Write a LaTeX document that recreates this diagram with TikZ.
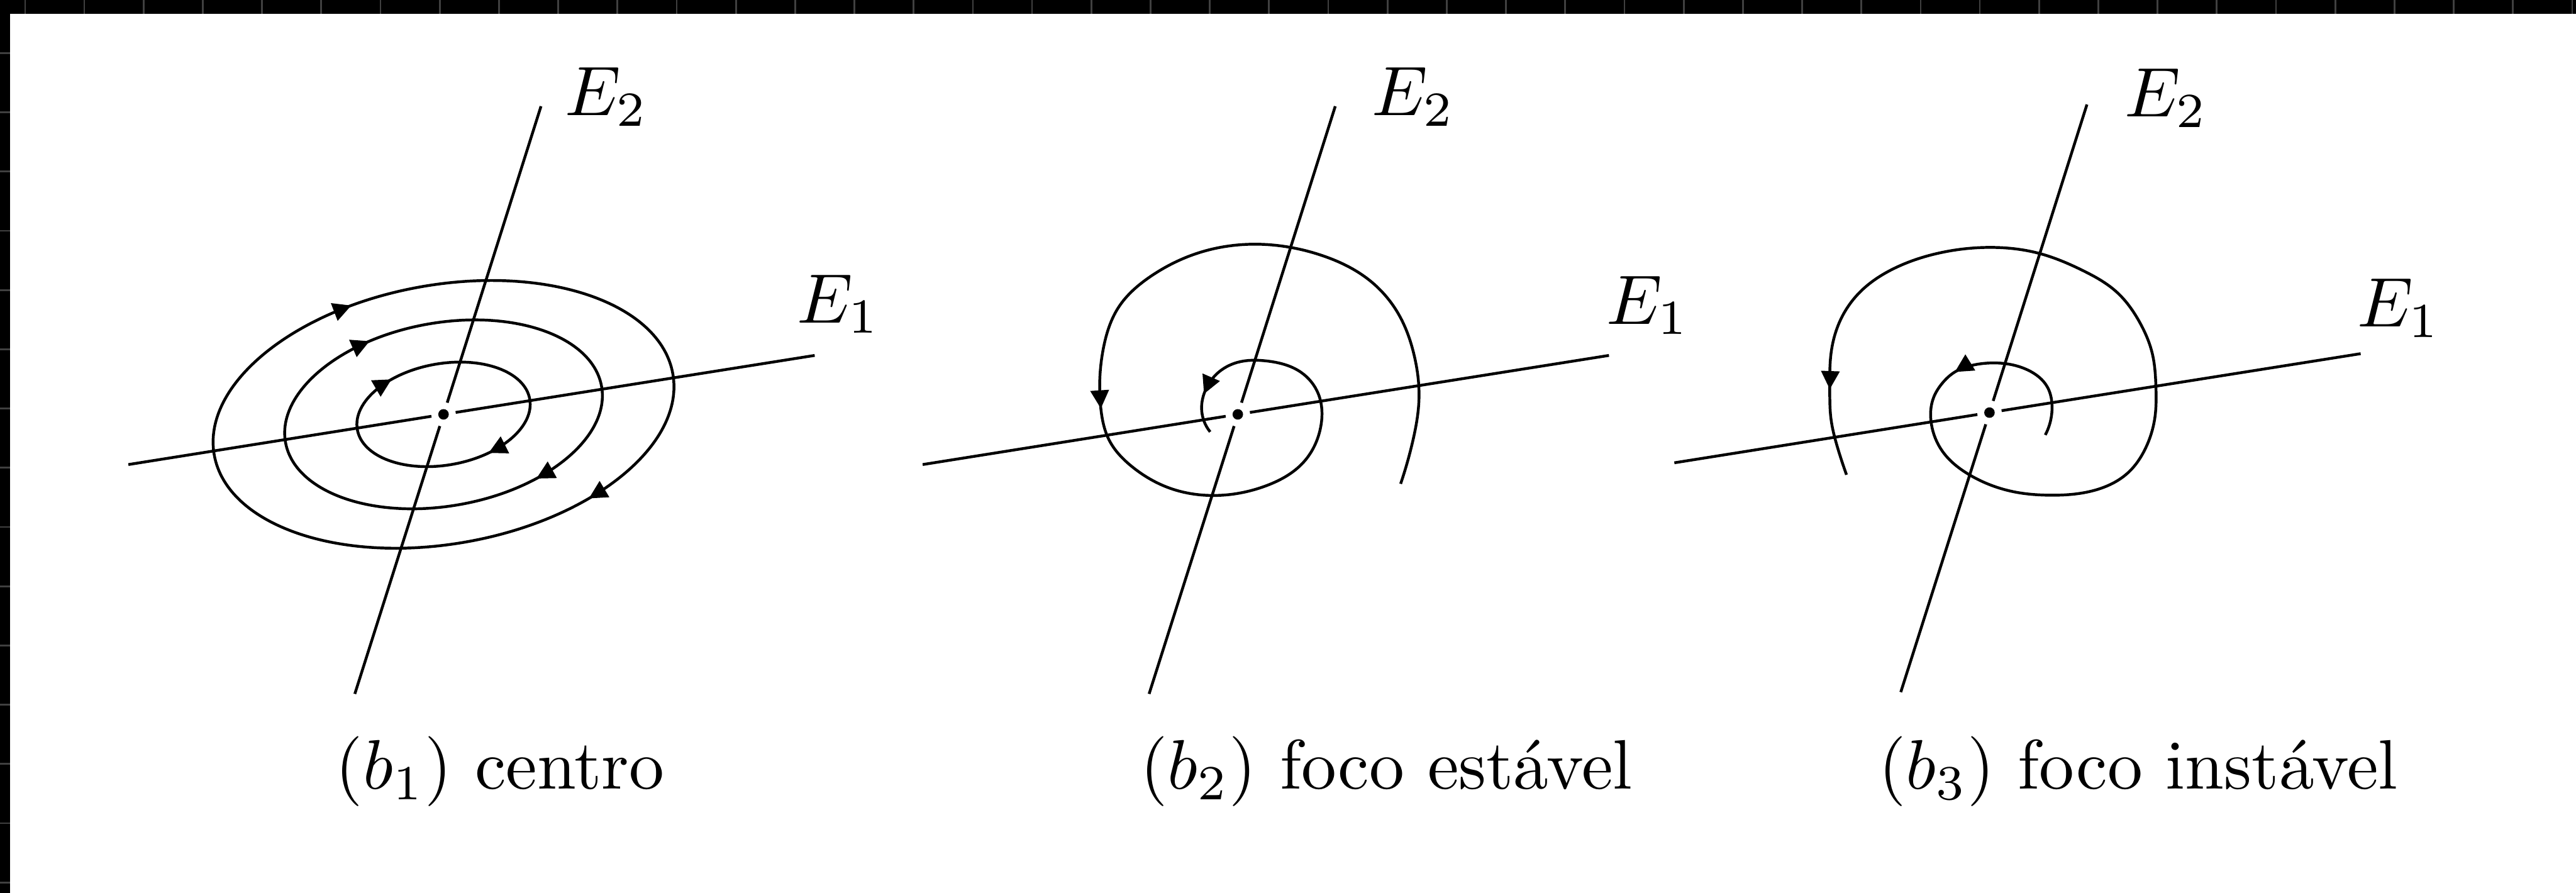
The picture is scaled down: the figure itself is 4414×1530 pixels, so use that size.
\documentclass[tikz,border=0pt]{standalone}
\usetikzlibrary{arrows.meta,hobby}
\begin{document}
\begin{tikzpicture}[x=0.0833333pt,y=0.0833333pt,
  stroke/.style={line width=0.4pt},
  tipmark/.style={-{Triangle[length=2.6pt,width=2.6pt]}, line width=0.4pt},
  eqpt/.style={circle, fill=black, inner sep=0pt, minimum size=1.5pt, outer sep=1.0pt},
  lbl/.style={inner sep=0pt, anchor=base west},
  captxt/.style={inner sep=0pt, anchor=base west},
  tickmark/.style={black!75, line width=0.25pt}]
\useasboundingbox (0,0) rectangle (4414,-1530);
% frame
\fill[black] (0,0) rectangle (4414,-24);
\fill[black] (0,0) rectangle (17,-1530);
\foreach \k in {0,...,43} \draw[tickmark] ({43+101.5*\k},0) -- ({43+101.5*\k},-24);
\foreach \k in {0,...,14} \draw[tickmark] (0,{-91-101.5*\k}) -- (17,{-91-101.5*\k});

% ---------- panel 1: centro ----------
\node[eqpt] (o1) at (760,-710) {};
\coordinate (o1n) at (927,-182);
\coordinate (o1s) at (608,-1189);
\coordinate (o1w) at (220,-796);
\coordinate (o1e) at (1396,-609);
\draw[stroke] (o1) -- (o1n);
\draw[stroke] (o1) -- (o1s);
\draw[stroke] (o1) -- (o1w);
\draw[stroke] (o1) -- (o1e);
\begin{scope}[shift={(760,-710)}, rotate=10]
  \draw[stroke] (0,0) ellipse[x radius=399, y radius=222];
  \draw[stroke] (0,0) ellipse[x radius=275, y radius=157];
  \draw[stroke] (0,0) ellipse[x radius=150, y radius=87];
  \draw[tipmark] (110:399 and 222) -- (108:399 and 222);
  \draw[tipmark] (305.5:399 and 222) -- (303.5:399 and 222);
  \draw[tipmark] (114:275 and 157) -- (112:275 and 157);
  \draw[tipmark] (302:275 and 157) -- (300:275 and 157);
  \draw[tipmark] (124:150 and 87) -- (121:150 and 87);
  \draw[tipmark] (298.5:150 and 87) -- (295.5:150 and 87);
\end{scope}
\node[lbl] (l1b) at (966,-198) {$E_2$};
\node[lbl] (l1a) at (1363,-553) {$E_1$};
\node[captxt] (c1) at (573,-1352) {$(b_1)$ centro};

% ---------- panel 2: foco estavel ----------
\node[eqpt] (o2) at (2121,-710) {};
\coordinate (o2n) at (2288,-182);
\coordinate (o2s) at (1969,-1189);
\coordinate (o2w) at (1581,-796);
\coordinate (o2e) at (2757,-609);
\draw[stroke] (o2) -- (o2n);
\draw[stroke] (o2) -- (o2s);
\draw[stroke] (o2) -- (o2w);
\draw[stroke] (o2) -- (o2e);
\begin{scope}[shift={(2121,-710)}]
  \draw[stroke, use Hobby shortcut] (279,-119) .. (300,-45) .. (310.5,28.5) .. (302,102) .. (277,169) .. (226,229.5) .. (142,273) .. (37,291.5) .. (-68.4,276.4) .. (-150,236) .. (-204,184) .. (-230,115) .. (-234.7,10) .. (-220,-45) .. (-182,-89) .. (-119,-125.6) .. (-43,-139) .. (49.5,-122) .. (112.6,-82) .. (142,-21.75) .. (138,35) .. (108.4,72) .. (49.5,91.5) .. (-1,89) .. (-35,70.4) .. (-58,35) .. (-62,8.4) .. (-47.4,-30);
  \draw[tipmark] (-236,30) -- (-234.7,10);
  \draw[tipmark] (-52,48.8) -- (-58,35);
\end{scope}
\node[lbl] (l2b) at (2348,-198) {$E_2$};
\node[lbl] (l2a) at (2750,-555) {$E_1$};
\node[captxt] (c2) at (1952,-1352) {$(b_2)$ foco estável};

% ---------- panel 3: foco instavel ----------
\node[eqpt] (o3) at (3409,-707) {};
\coordinate (o3n) at (3576,-179);
\coordinate (o3s) at (3257,-1186);
\coordinate (o3w) at (2869,-793);
\coordinate (o3e) at (4045,-606);
\draw[stroke] (o3) -- (o3n);
\draw[stroke] (o3) -- (o3s);
\draw[stroke] (o3) -- (o3w);
\draw[stroke] (o3) -- (o3e);
\begin{scope}[shift={(3409,-707)}]
  \draw[stroke, use Hobby shortcut] (95.6,-38.3) .. (107.1,13.4) .. (99.5,43.3) .. (65,73.3) .. (0,85) .. (-30,81) .. (-59.4,69.6) .. (-82,49) .. (-95.7,26) .. (-99.5,-20) .. (-80.4,-66.6) .. (-34.5,-106.5) .. (45.9,-136.5) .. (103.3,-141.5) .. (179.8,-133.2) .. (237.2,-103.2) .. (267.9,-60) .. (283.2,-10) .. (285.1,46.7) .. (279.3,99.9) .. (256.4,156.5) .. (218.1,206.5) .. (160.7,243.1) .. (84.2,273.1) .. (3.8,283.1) .. (-88,273.1) .. (-164.6,246.5) .. (-222,206.5) .. (-256.4,156.5) .. (-271.7,99.9) .. (-273.7,40) .. (-271.7,-10) .. (-260.3,-60) .. (-245,-106.5);
  \draw[tipmark] (-49,76) -- (-59.4,69.6);
  \draw[tipmark] (-273,60) -- (-273.7,40);
\end{scope}
\node[lbl] (l3b) at (3638,-200) {$E_2$};
\node[lbl] (l3a) at (4037,-560) {$E_1$};
\node[captxt] (c3) at (3217,-1352) {$(b_3)$ foco instável};
\end{tikzpicture}
\end{document}
